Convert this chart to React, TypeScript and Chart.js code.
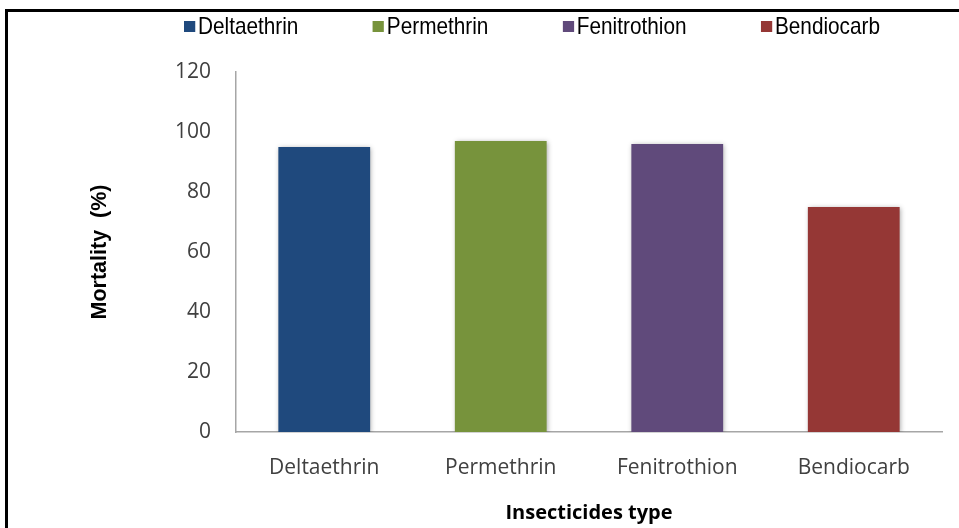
import React, { useEffect, useRef } from "react";
import { Chart, registerables } from "chart.js";

Chart.register(...registerables);

const categories = ["Deltaethrin", "Permethrin", "Fenitrothion", "Bendiocarb"];
const mortality = [95, 97, 96, 75];
const barColors = ["#1F497D", "#77933C", "#604A7B", "#953735"];
const yTicks = [0, 20, 40, 60, 80, 100, 120];
const yTitle = "Mortality  (%)";
const xTitle = "Insecticides type";

const shadowPlugin = {
  id: "barShadow",
  beforeDatasetsDraw(chart: any) {
    const c = chart.ctx;
    c.save();
    c.shadowColor = "rgba(0,0,0,0.35)";
    c.shadowBlur = 5;
    c.shadowOffsetX = 1;
    c.shadowOffsetY = 1;
  },
  afterDatasetsDraw(chart: any) {
    chart.ctx.restore();
  },
};

const LEGEND_SCALE = 0.865;

export default function App() {
  const ref = useRef<HTMLCanvasElement | null>(null);

  useEffect(() => {
    if (!ref.current) return;
    const tickFont = { family: "'Open Sans', sans-serif", size: 21 };
    const chart = new Chart(ref.current, {
      type: "bar",
      data: {
        labels: categories,
        datasets: [
          {
            label: "Mortality",
            data: mortality,
            backgroundColor: barColors,
            borderWidth: 0,
            barPercentage: 0.52,
            categoryPercentage: 1,
          },
        ],
      },
      plugins: [shadowPlugin],
      options: {
        responsive: false,
        animation: false,
        layout: { padding: { left: 0, right: 17, top: 72, bottom: 0 } },
        plugins: {
          legend: { display: false },
          tooltip: { enabled: false },
        },
        scales: {
          x: {
            grid: { display: false, drawTicks: false },
            border: { display: true, color: "#A6A6A6", width: 1.5 },
            ticks: { color: "#404040", font: tickFont, padding: 23 },
            title: {
              display: true,
              text: xTitle,
              color: "#000",
              font: { family: "'Open Sans', sans-serif", size: 20, weight: "bold" },
              padding: { top: 0, bottom: 3 },
            },
            afterFit: (s: any) => {
              s.height = 96;
            },
          },
          y: {
            min: 0,
            max: 120,
            grid: { display: false, drawTicks: false },
            border: { display: true, color: "#A6A6A6", width: 1.5 },
            ticks: { color: "#404040", font: tickFont, padding: 25 },
            afterBuildTicks: (s: any) => {
              s.ticks = yTicks.map((v) => ({ value: v }));
            },
            title: {
              display: true,
              text: yTitle,
              color: "#000",
              font: { family: "'Liberation Sans', Arial, sans-serif", size: 21.5, weight: "bold" },
              padding: { top: 87, bottom: 0 },
            },
            afterFit: (s: any) => {
              s.width = 236;
            },
          },
        },
      },
    } as any);
    return () => chart.destroy();
  }, []);

  return (
    <div
      style={{
        position: "absolute",
        left: 0,
        top: 0,
        width: 959,
        height: 528,
        overflow: "hidden",
        background: "#fff",
      }}
    >
      <div
        style={{
          position: "absolute",
          left: 5,
          top: 9,
          width: 2000,
          height: 2000,
          borderTop: "3px solid #000",
          borderLeft: "3px solid #000",
        }}
      />
      <canvas
        ref={ref}
        width={959}
        height={528}
        style={{ position: "absolute", left: 0, top: 0, width: 959, height: 528 }}
      />
      <div
        style={{
          position: "absolute",
          left: 184,
          top: 12,
          width: 696 / LEGEND_SCALE,
          display: "flex",
          justifyContent: "space-between",
          alignItems: "center",
          fontFamily: "'Liberation Sans', Arial, sans-serif",
          fontSize: 24,
          lineHeight: "28px",
          color: "#000",
          transform: `scaleX(${LEGEND_SCALE})`,
          transformOrigin: "0 0",
        }}
      >
        {categories.map((c, i) => (
          <div key={c} style={{ display: "flex", alignItems: "center" }}>
            <span
              style={{
                display: "inline-block",
                width: 11 / LEGEND_SCALE,
                height: 11,
                background: barColors[i],
                marginRight: 3 / LEGEND_SCALE,
              }}
            />
            <span>{c}</span>
          </div>
        ))}
      </div>
    </div>
  );
}
